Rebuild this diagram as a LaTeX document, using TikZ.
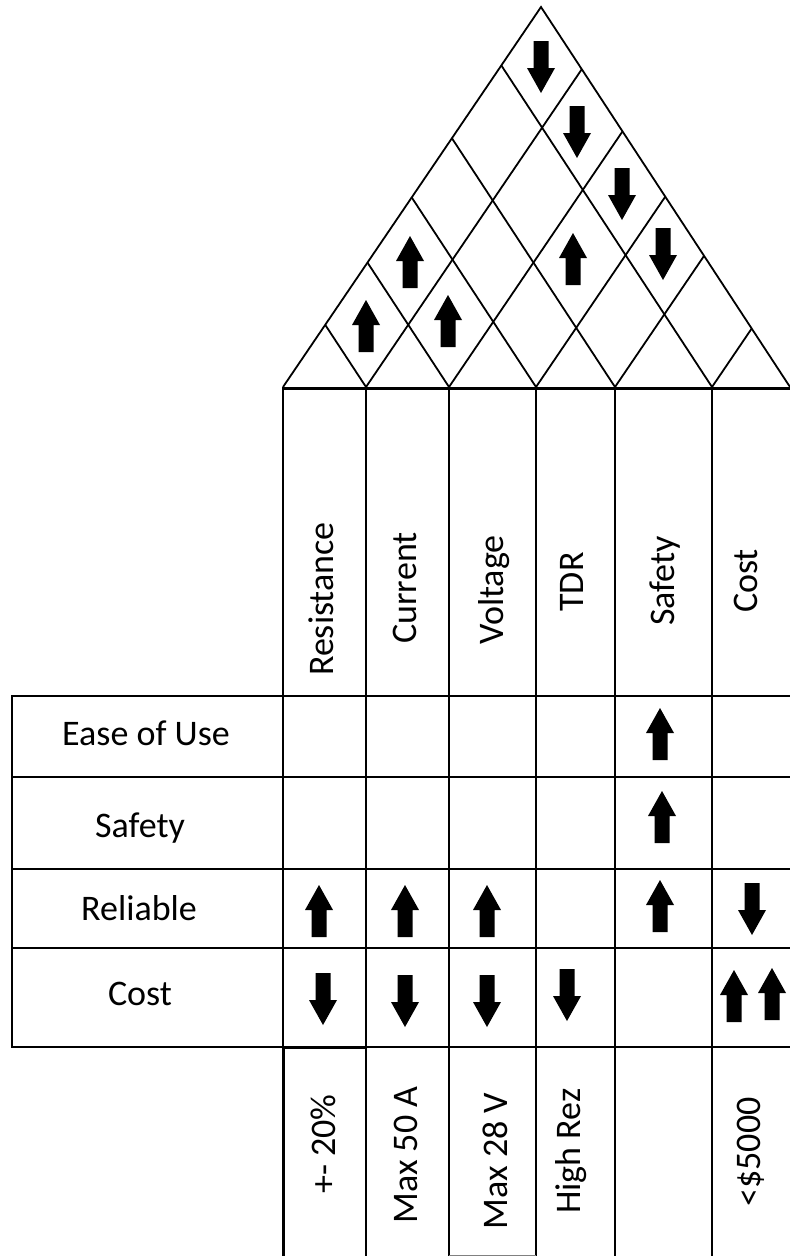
\documentclass[tikz,border=0pt]{standalone}
\usepackage{fontspec}
\setmainfont{Carlito}
\begin{document}
\begin{tikzpicture}[x=1pt,y=-1pt,
  grid/.style={line width=2pt, line cap=rect},
  heavy/.style={line width=3pt},
  roofline/.style={line width=1.8pt},
  lbl/.style={font=\fontsize{36}{40}\selectfont, inner sep=0pt},
  vlbl/.style={lbl, rotate=90},
  arrowbox/.style={minimum width=28pt, minimum height=52pt, inner sep=0pt},
  uparr/.style={arrowbox, path picture={
    \fill[shift={(path picture bounding box.center)}]
      (0pt,26pt) -- (14pt,1pt) -- (7.5pt,1pt) -- (7.5pt,-26pt)
      -- (-7.5pt,-26pt) -- (-7.5pt,1pt) -- (-14pt,1pt) -- cycle;}},
  dnarr/.style={arrowbox, path picture={
    \fill[shift={(path picture bounding box.center)}]
      (0pt,-26pt) -- (14pt,-1pt) -- (7.5pt,-1pt) -- (7.5pt,26pt)
      -- (-7.5pt,26pt) -- (-7.5pt,-1pt) -- (-14pt,-1pt) -- cycle;}}
]
\useasboundingbox (0,0) rectangle (790,1256);

% ---- roof: correlation triangle ----
\coordinate (apex) at (541,7);
\coordinate (b0) at (283,387);
\coordinate (b6) at (790,387);
% base points on the column borders
\coordinate (b1) at (366,387);
\coordinate (b2) at (449,387);
\coordinate (b3) at (536,387);
\coordinate (b4) at (615,387);
\coordinate (b5) at (712,387);
% where the diagonals from the base points meet the right side
\coordinate (e1) at (581.8,69.2);
\coordinate (e2) at (622.5,131.4);
\coordinate (e3) at (665.3,196.6);
\coordinate (e4) at (704.1,255.8);
\coordinate (e5) at (751.7,328.5);
% ... and the left side
\coordinate (w1) at (325.2,324.8);
\coordinate (w2) at (367.5,262.6);
\coordinate (w3) at (411.7,197.4);
\coordinate (w4) at (451.9,138.2);
\coordinate (w5) at (501.3,65.4);
\draw[roofline, line join=miter] (b0) -- (apex) -- (b6);
\foreach \i in {1,...,5} {
  \draw[roofline] (w\i) -- (b\i) -- (e\i);
}

% ---- table grid ----
\draw[heavy] (283,388) -- (792,388);
\foreach \x in {283,366,449,536,615,712}
  \draw[grid] (\x,388) -- (\x,1260);
\foreach \y in {696,777,869,948,1047}
  \draw[grid] (12,\y) -- (792,\y);
\draw[grid] (12,696) -- (12,1047);
\draw[heavy] (283,1047) -- (366,1047);
\draw[heavy] (283,1047) -- (283,1260);
\draw[gray, line width=1pt] (449,1255) -- (536,1255);

% ---- column headers ----
\node[vlbl] (hRes)  at (321,599) {Resistance};
\node[vlbl] (hCur)  at (405,588) {Current};
\node[vlbl] (hVolt) at (494,590) {Voltage};
\node[vlbl] (hTDR)  at (572,582) {TDR};
\node[vlbl] (hSaf)  at (665,581) {Safety};
\node[vlbl] (hCost) at (746,581) {Cost};

% ---- row labels ----
\node[lbl, anchor=base] (rEase) at (146,745) {Ease of Use};
\node[lbl, anchor=base] (rSaf)  at (140,837) {Safety};
\node[lbl, anchor=base] (rRel)  at (139,920) {Reliable};
\node[lbl, anchor=base] (rCost) at (140,1005) {Cost};

% ---- target values ----
\node[vlbl] (tRes)  at (323,1144) {+- 20\%};
\node[vlbl] (tCur)  at (406,1155) {Max 50 A};
\node[vlbl] (tVolt) at (495,1161) {Max 28 V};
\node[vlbl] (tTDR)  at (571,1151) {High Rez};
\node[vlbl] (tCost) at (751,1152) {<\$5000};

% ---- roof correlations ----
\node[dnarr] (r16) at (541,67) {};
\node[dnarr] (r26) at (577,132) {};
\node[dnarr] (r36) at (622,194) {};
\node[dnarr] (r46) at (663,254) {};
\node[uparr] (r12) at (366,326) {};
\node[uparr] (r13) at (410,262) {};
\node[uparr] (r23) at (448,321) {};
\node[uparr] (r35) at (573,259) {};

% ---- relationship matrix ----
\node[uparr] (mEaseSaf) at (660,734) {};
\node[uparr] (mSafSaf)  at (662,817) {};
\node[uparr] (mRelRes)  at (319,911) {};
\node[uparr] (mRelCur)  at (405,911) {};
\node[uparr] (mRelVolt) at (487,911) {};
\node[uparr] (mRelSaf)  at (660,906) {};
\node[dnarr] (mRelCost) at (752,909) {};
\node[dnarr] (mCostRes)  at (323,999) {};
\node[dnarr] (mCostCur)  at (405,1001) {};
\node[dnarr] (mCostVolt) at (487,1001) {};
\node[dnarr] (mCostTDR)  at (567,995) {};
\node[uparr] (mCostCostA) at (734,996) {};
\node[uparr] (mCostCostB) at (772,994) {};
\end{tikzpicture}
\end{document}
